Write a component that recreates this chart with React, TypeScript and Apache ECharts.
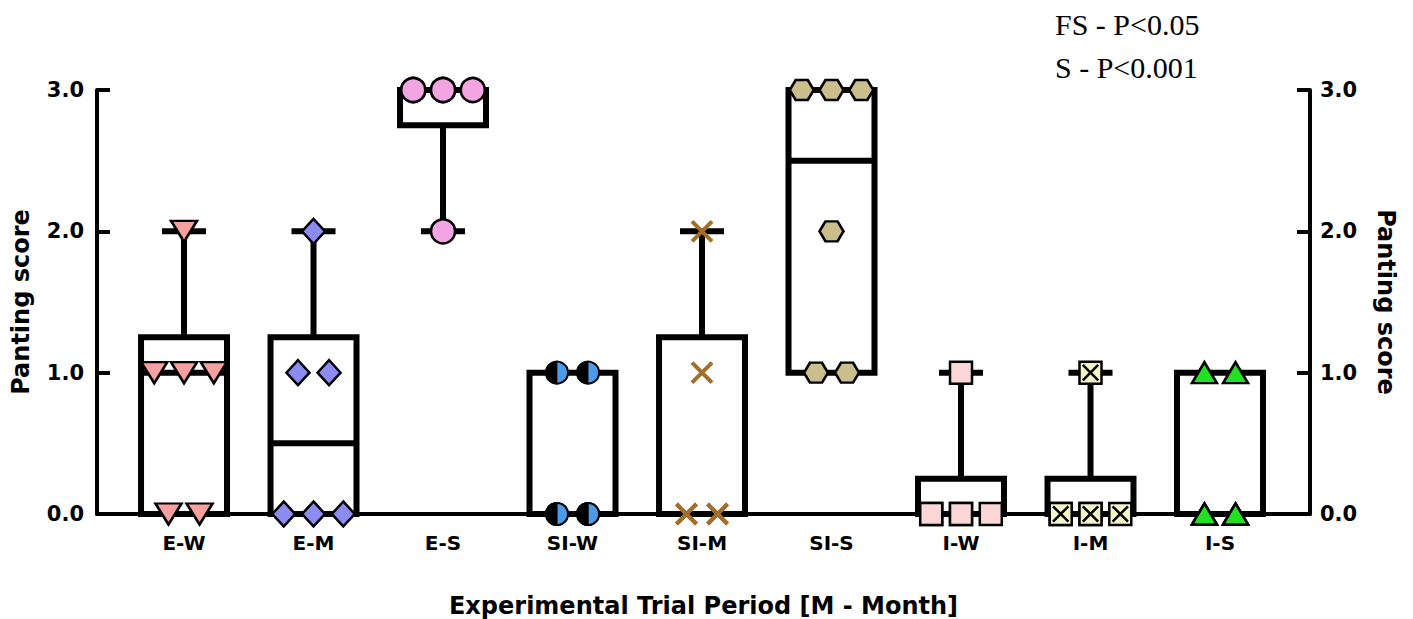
import React, { useEffect, useRef } from "react";
import * as echarts from "echarts";

// ---------- data ----------
const categories = ["E-W", "E-M", "E-S", "SI-W", "SI-M", "SI-S", "I-W", "I-M", "I-S"];
const ewScores = [0, 0, 1, 1, 1, 2];
const emScores = [0, 0, 0, 1, 1, 2];
const esScores = [2, 3, 3, 3, 3, 3];
const siwScores = [0, 0, 0, 0, 1, 1];
const simScores = [0, 0, 0, 0, 1, 2];
const sisScores = [1, 1, 2, 3, 3, 3];
const iwScores = [0, 0, 0, 0, 0, 1];
const imScores = [0, 0, 0, 0, 0, 1];
const isScores = [0, 0, 0, 0, 1, 1];
const yTicks = [0, 1, 2, 3];
const annotations = ["FS - P<0.05", "S - P<0.001"];
const yAxisTitle = "Panting score";
const xAxisTitle = "Experimental Trial Period [M - Month]";

const groupScores = [ewScores, emScores, esScores, siwScores, simScores, sisScores, iwScores, imScores, isScores];

// ---------- helpers ----------
function quantile(sorted: number[], p: number) {
  const n = sorted.length;
  let pos = p * (n + 1);
  if (pos < 1) pos = 1;
  if (pos > n) pos = n;
  const lo = Math.floor(pos);
  const frac = pos - lo;
  const a = sorted[lo - 1];
  const b = sorted[Math.min(lo, n - 1)];
  return a + frac * (b - a);
}

function boxStats(values: number[]) {
  const s = [...values].sort((a, b) => a - b);
  return [s[0], quantile(s, 0.25), quantile(s, 0.5), quantile(s, 0.75), s[s.length - 1]];
}

function spread(idx: number, values: number[]) {
  const counts = new Map<number, number>();
  values.forEach((v) => counts.set(v, (counts.get(v) || 0) + 1));
  const out: number[][] = [];
  counts.forEach((k, v) => {
    const cols = k <= 3 ? k : k === 4 ? 2 : 3;
    const step = cols === 2 ? 0.24 : 0.23;
    for (let j = 0; j < k; j++) {
      const col = j % cols;
      const off = (col - (cols - 1) / 2) * step;
      out.push([idx + off, v]);
    }
  });
  return out;
}

const FONT = "DejaVu Sans";
const BOX_W = 0.664;
const CAP_W = 0.34;
const LW = 6;

const symbolDefs: any[] = [
  { symbol: "triangle", size: [26, 21], rotate: 180, color: "#F6A0A0", border: "#000", bw: 2.5 },
  { symbol: "diamond", size: [23, 25], rotate: 0, color: "#8B8BF2", border: "#000", bw: 2.5 },
  { symbol: "circle", size: [24, 24], rotate: 0, color: "#F3A5E1", border: "#000", bw: 2.5 },
  { symbol: "circle", size: [22, 22], rotate: 0, color: "#4C9BEA", border: "#000", bw: 2 },
  { symbol: "path://M0 0 L10 10 M10 0 L0 10", size: [20, 20], rotate: 0, color: "#A26E2A", border: "#A26E2A", bw: 4 },
  { symbol: "path://M3 0 L9 0 L12 5 L9 10 L3 10 L0 5 Z", size: [24, 20], rotate: 0, color: "#C9BE8C", border: "#000", bw: 2.5 },
  { symbol: "rect", size: [22, 22], rotate: 0, color: "#FAD6D6", border: "#000", bw: 2.5 },
  { symbol: "path://M0 0 L10 0 L10 10 L0 10 Z M1.5 1.5 L8.5 8.5 M8.5 1.5 L1.5 8.5", size: [22, 22], rotate: 0, color: "#F4F4C8", border: "#000", bw: 2.5 },
  { symbol: "triangle", size: [25, 21], rotate: 0, color: "#22E022", border: "#000", bw: 2.5 },
];

export default function App() {
  const ref = useRef<HTMLDivElement>(null);

  useEffect(() => {
    if (!ref.current) return;
    const chart = echarts.init(ref.current, null, { renderer: "svg" });

    const boxData = groupScores.map((vals, i) => [i, ...boxStats(vals)]);

    const scatterSeries: any[] = groupScores.map((vals, i) => {
      const d = symbolDefs[i];
      return {
        type: "scatter",
        name: categories[i],
        data: spread(i, vals),
        symbol: d.symbol,
        symbolSize: d.size,
        symbolRotate: d.rotate,
        clip: false,
        z: 5,
        itemStyle: { color: d.color, borderColor: d.border, borderWidth: d.bw, opacity: 1 },
        emphasis: { disabled: true },
      };
    });
    // left black half of the SI-W symbol
    scatterSeries.push({
      type: "scatter",
      name: categories[3] + " half",
      data: spread(3, siwScores),
      symbol: "path://M10 0 A10 10 0 0 0 10 20 Z",
      symbolSize: [11, 22],
      symbolOffset: [-5.5, 0],
      clip: false,
      z: 6,
      itemStyle: { color: "#000", borderColor: "#000", borderWidth: 1, opacity: 1 },
      emphasis: { disabled: true },
    });

    const yAxisCommon = {
      type: "value",
      min: 0,
      max: 3,
      interval: 1,
      splitLine: { show: false },
      axisLine: { show: true, onZero: false, lineStyle: { color: "#000", width: 4 } },
      axisTick: { show: true, inside: true, length: 13, lineStyle: { color: "#000", width: 4 } },
      axisLabel: {
        color: "#000",
        fontFamily: FONT,
        fontWeight: "bold",
        fontSize: 21,
        formatter: (v: number) => (yTicks.includes(v) ? v.toFixed(1) : ""),
      },
      name: yAxisTitle,
      nameLocation: "middle",
      nameTextStyle: { color: "#000", fontFamily: FONT, fontWeight: "bold", fontSize: 24 },
    };

    chart.setOption({
      animation: false,
      backgroundColor: "#fff",
      grid: { left: 97, right: 103, top: 90, bottom: 105, containLabel: false, outerBoundsMode: "none" },
      xAxis: {
        type: "value",
        min: -0.672,
        max: 8.695,
        splitLine: { show: false },
        axisLine: { show: true, onZero: false, lineStyle: { color: "#000", width: 4 } },
        axisTick: { show: false },
        axisLabel: {
          customValues: categories.map((_, i) => i),
          formatter: (v: number) => categories[Math.round(v)] ?? "",
          color: "#000",
          fontFamily: FONT,
          fontWeight: "bold",
          fontSize: 20,
          margin: 19,
          showMinLabel: true,
          showMaxLabel: true,
        },
        name: xAxisTitle,
        nameLocation: "middle",
        nameGap: 80,
        nameTextStyle: { color: "#000", fontFamily: FONT, fontWeight: "bold", fontSize: 24 },
      },
      yAxis: [
        { ...yAxisCommon, position: "left", nameGap: 64, nameRotate: 90, axisLabel: { ...yAxisCommon.axisLabel, margin: 13 } },
        { ...yAxisCommon, position: "right", nameGap: 64, nameRotate: -90, axisLabel: { ...yAxisCommon.axisLabel, margin: 10 } },
      ],
      graphic: annotations.map((t, i) => ({
        type: "text",
        left: 1055,
        top: 9 + i * 43,
        style: { text: t, fill: "#000", font: "30px 'Liberation Serif'" },
        silent: true,
      })),
      series: [
        {
          type: "custom",
          name: "boxes",
          data: boxData,
          clip: false,
          z: 3,
          encode: { x: 0, y: [1, 2, 3, 4, 5] },
          renderItem: (params: any, api: any) => {
            const x = api.value(0);
            const mn = api.value(1);
            const q1 = api.value(2);
            const med = api.value(3);
            const q3 = api.value(4);
            const mx = api.value(5);
            const tl = api.coord([x - BOX_W / 2, q3]);
            const br = api.coord([x + BOX_W / 2, q1]);
            const st = { stroke: "#000", lineWidth: LW, fill: "none" };
            const children: any[] = [];
            if (mx > q3) {
              const a = api.coord([x, q3]);
              const b = api.coord([x, mx]);
              const c1 = api.coord([x - CAP_W / 2, mx]);
              const c2 = api.coord([x + CAP_W / 2, mx]);
              children.push({ type: "line", shape: { x1: a[0], y1: a[1], x2: b[0], y2: b[1] }, style: st });
              children.push({ type: "line", shape: { x1: c1[0], y1: c1[1], x2: c2[0], y2: c2[1] }, style: st });
            }
            if (mn < q1) {
              const a = api.coord([x, q1]);
              const b = api.coord([x, mn]);
              const c1 = api.coord([x - CAP_W / 2, mn]);
              const c2 = api.coord([x + CAP_W / 2, mn]);
              children.push({ type: "line", shape: { x1: a[0], y1: a[1], x2: b[0], y2: b[1] }, style: st });
              children.push({ type: "line", shape: { x1: c1[0], y1: c1[1], x2: c2[0], y2: c2[1] }, style: st });
            }
            children.push({
              type: "rect",
              shape: { x: tl[0], y: tl[1], width: br[0] - tl[0], height: br[1] - tl[1] },
              style: { stroke: "#000", lineWidth: LW, fill: "#fff" },
            });
            const m1 = api.coord([x - BOX_W / 2, med]);
            const m2 = api.coord([x + BOX_W / 2, med]);
            children.push({ type: "line", shape: { x1: m1[0], y1: m1[1], x2: m2[0], y2: m2[1] }, style: st });
            return { type: "group", children };
          },
        },
        ...scatterSeries,
      ],
    });

    return () => chart.dispose();
  }, []);

  return (
    <div
      ref={ref}
      style={{ position: "fixed", left: 0, top: 0, width: 1413, height: 619, background: "#fff" }}
    />
  );
}
